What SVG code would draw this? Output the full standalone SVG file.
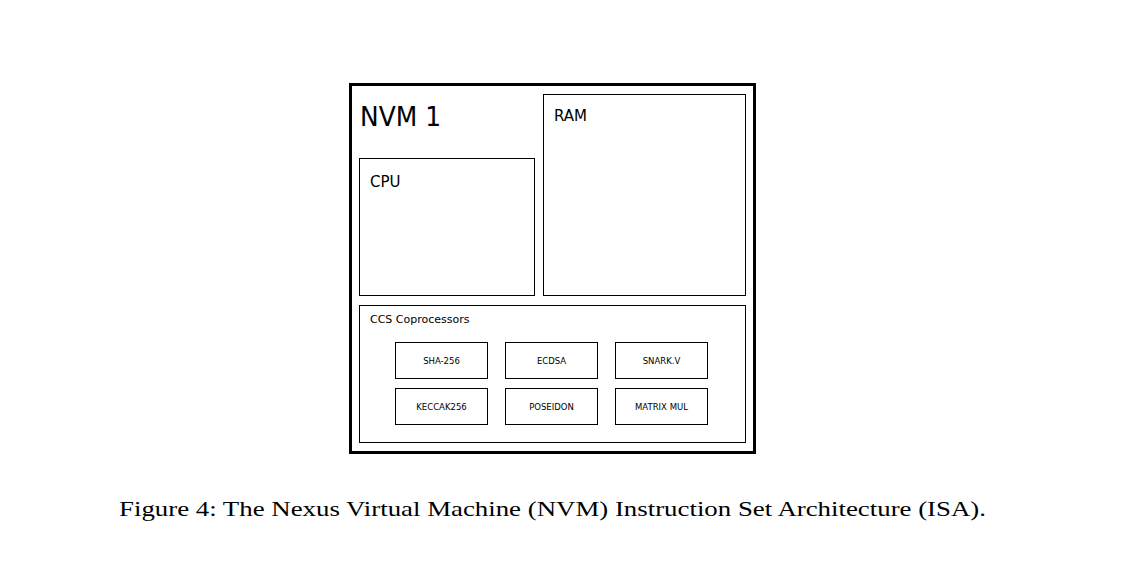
<svg xmlns="http://www.w3.org/2000/svg" width="1130" height="570" viewBox="0 0 1130 570">
<style>
.box{fill:#fff;stroke:#000;stroke-width:1}
.lbl{font-family:"DejaVu Sans",sans-serif;fill:#000}
.small{font-size:8.5px;text-anchor:middle}
.cap{font-family:"Liberation Serif",serif;font-size:22px;fill:#000}
</style>
<rect width="1130" height="570" fill="#fff"/>
<g id="nvm1">
<rect x="350.5" y="84.5" width="404" height="368" fill="#fff" stroke="#000" stroke-width="3"/>
<text class="lbl" x="360" y="126" font-size="26" textLength="81" lengthAdjust="spacingAndGlyphs">NVM 1</text>
</g>
<g id="cpu">
<rect class="box" x="359.5" y="158.5" width="175" height="137"/>
<text class="lbl" x="370" y="187" font-size="15">CPU</text>
</g>
<g id="ram">
<rect class="box" x="543.5" y="94.5" width="202" height="201"/>
<text class="lbl" x="554" y="121" font-size="15">RAM</text>
</g>
<g id="ccs">
<rect class="box" x="359.5" y="305.5" width="386" height="137"/>
<text class="lbl" x="370" y="323" font-size="11">CCS Coprocessors</text>
</g>
<g id="sha256"><rect class="box" x="395.5" y="342.5" width="92" height="36"/><text class="lbl small" x="441.5" y="363.5">SHA-256</text></g>
<g id="ecdsa"><rect class="box" x="505.5" y="342.5" width="92" height="36"/><text class="lbl small" x="551.5" y="363.5">ECDSA</text></g>
<g id="snarkv"><rect class="box" x="615.5" y="342.5" width="92" height="36"/><text class="lbl small" x="661.5" y="363.5">SNARK.V</text></g>
<g id="keccak256"><rect class="box" x="395.5" y="388.5" width="92" height="36"/><text class="lbl small" x="441.5" y="409.5">KECCAK256</text></g>
<g id="poseidon"><rect class="box" x="505.5" y="388.5" width="92" height="36"/><text class="lbl small" x="551.5" y="409.5">POSEIDON</text></g>
<g id="matrixmul"><rect class="box" x="615.5" y="388.5" width="92" height="36"/><text class="lbl small" x="661.5" y="409.5">MATRIX MUL</text></g>
<g id="connectors"></g>
<text class="cap" x="119" y="516" textLength="867" lengthAdjust="spacingAndGlyphs">Figure 4: The Nexus Virtual Machine (NVM) Instruction Set Architecture (ISA).</text>
</svg>
